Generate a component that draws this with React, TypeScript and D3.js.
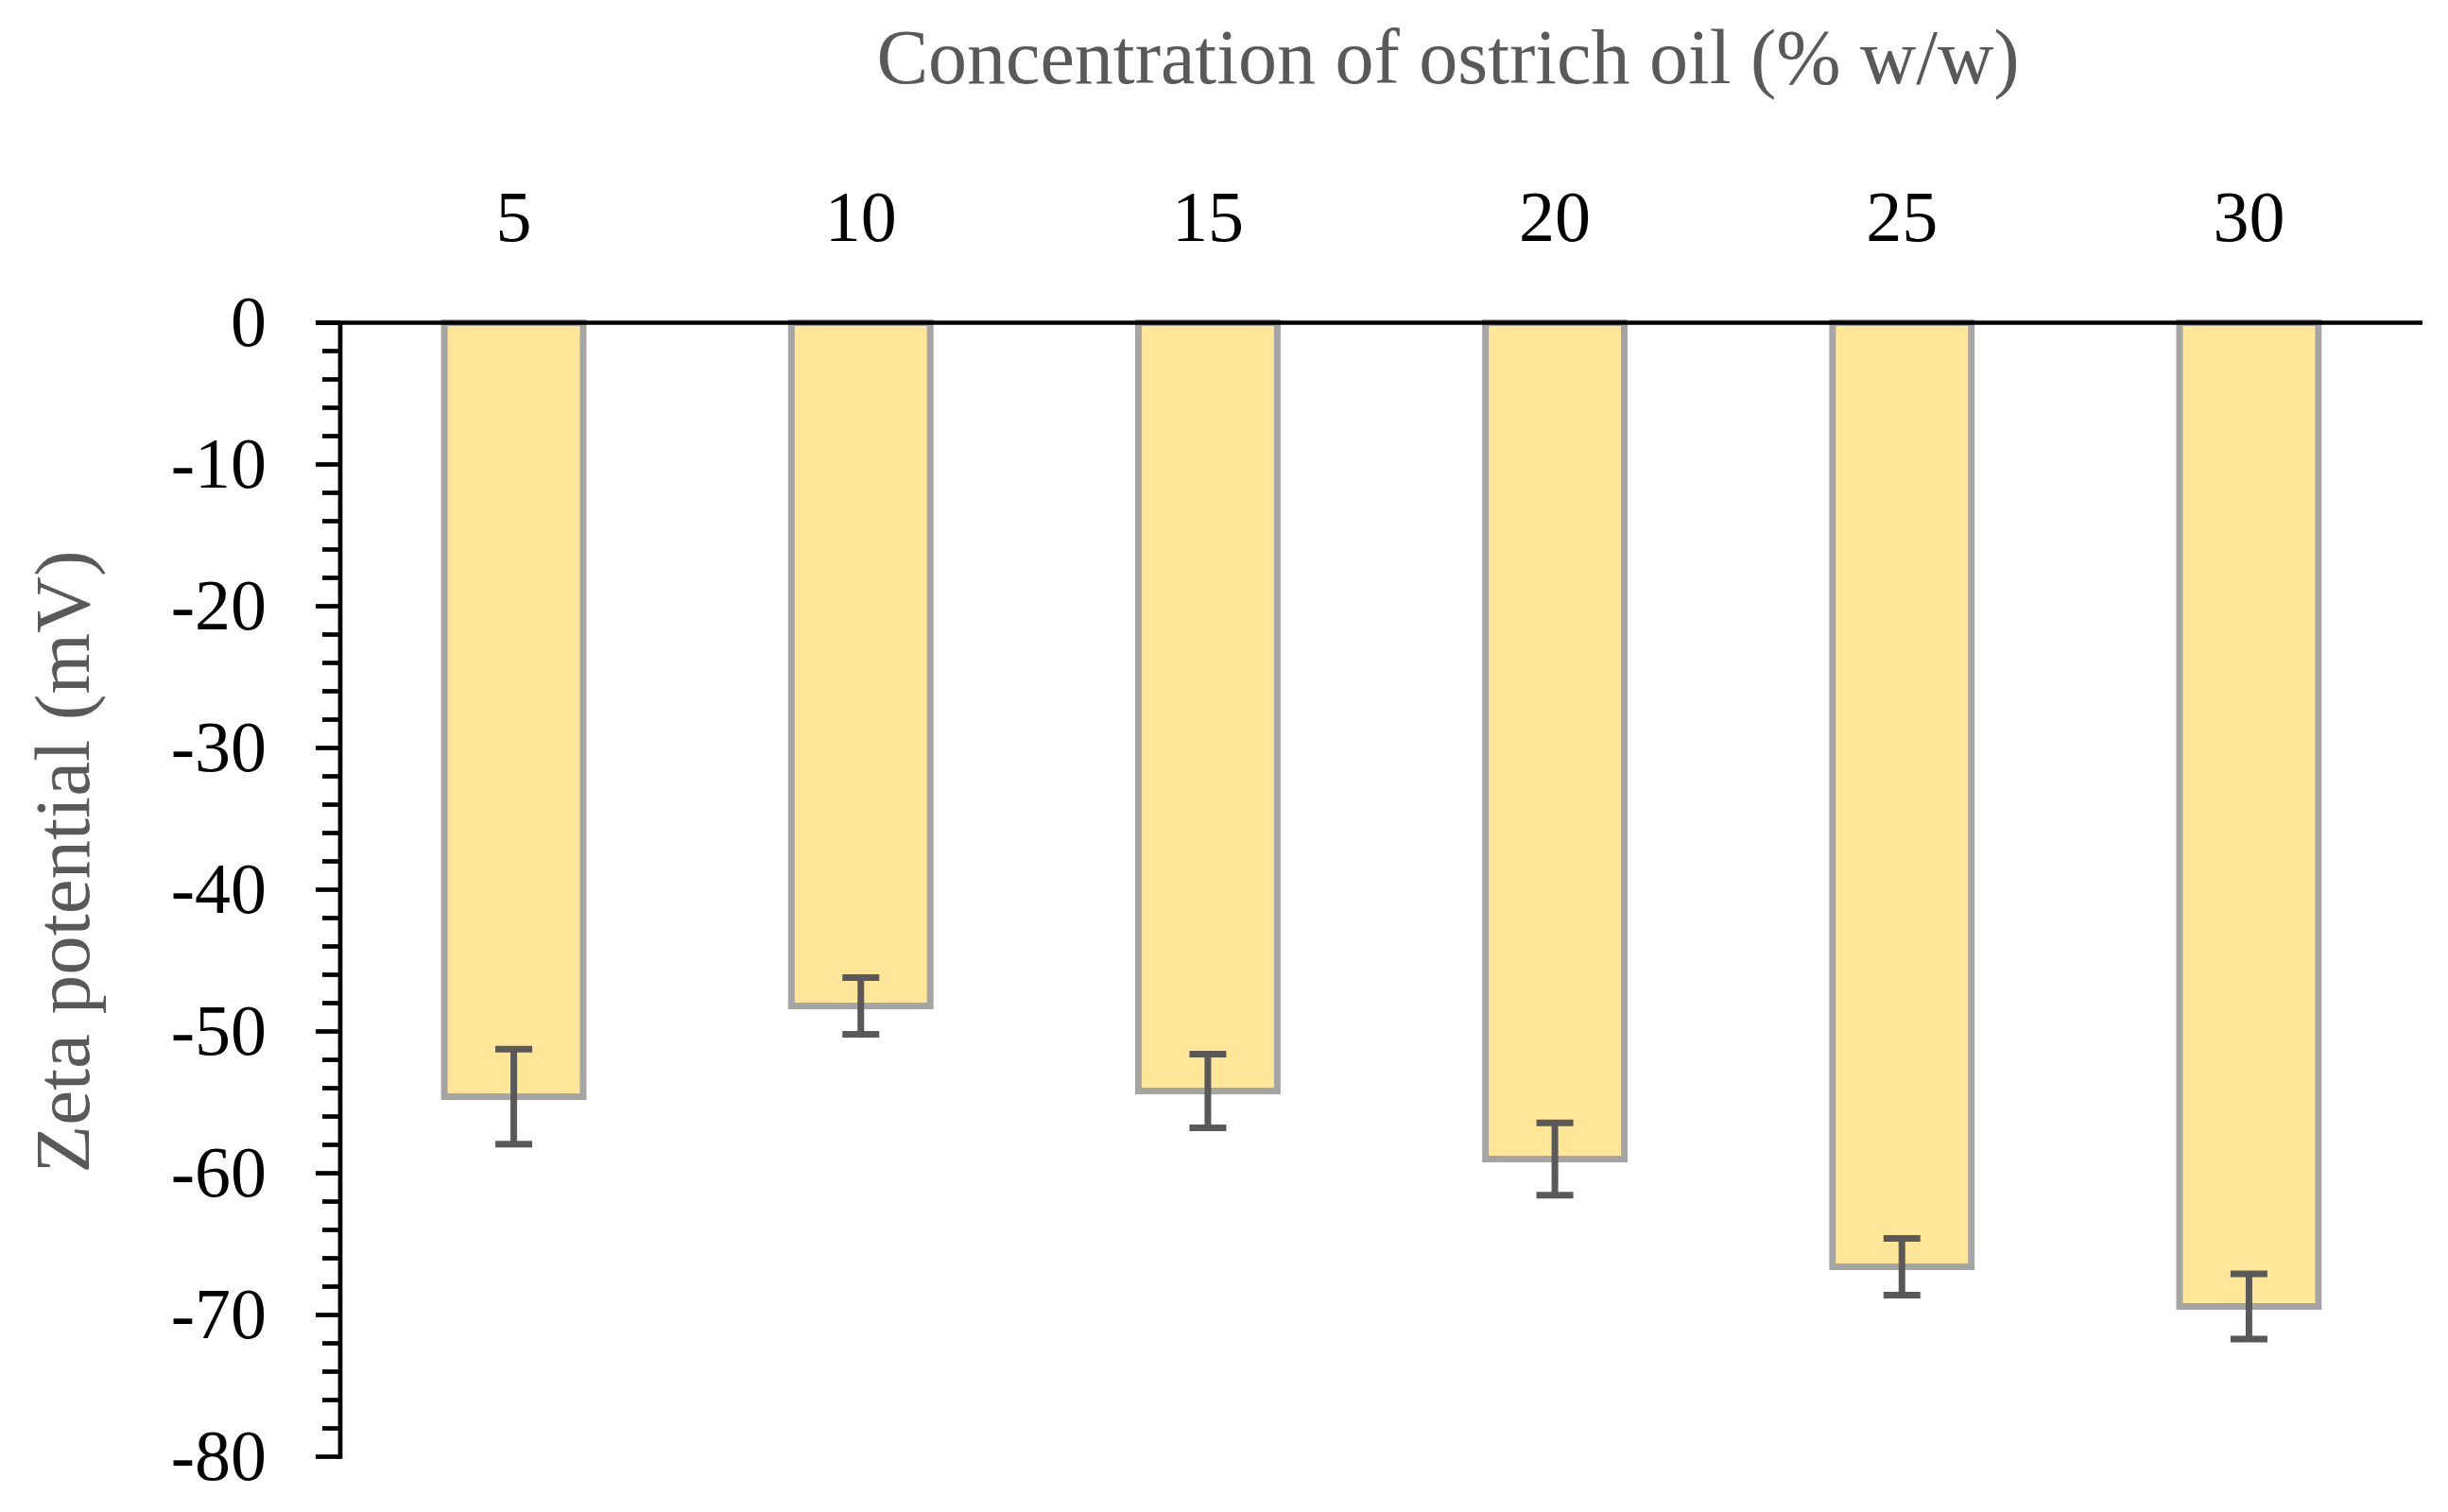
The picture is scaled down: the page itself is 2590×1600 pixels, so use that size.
import React from "react";
import * as d3 from "d3";

// oil concentration (% w/w)
const categories = ["5", "10", "15", "20", "25", "30"];
// zeta potential (mV) and standard deviation
const zetaValues = [-54.6, -48.2, -54.2, -59.0, -66.6, -69.4];
const zetaErrors = [3.35, 2.0, 2.6, 2.55, 2.0, 2.3];
const yTicks = [0, -10, -20, -30, -40, -50, -60, -70, -80];
const yMinorTicks = d3.range(0, -81, -2);

const width = 2590;
const height = 1600;
const serif = "'Liberation Serif', 'DejaVu Serif', serif";

function App() {
  const x = d3
    .scaleBand()
    .domain(categories)
    .range([360, 2563])
    .paddingInner(0.6)
    .paddingOuter(0.3);

  const y = d3.scaleLinear().domain([-80, 0]).range([1541.5, 341.5]);

  const data = categories.map((c, i) => ({
    cat: c,
    value: zetaValues[i],
    err: zetaErrors[i]
  }));

  const capHalf = 19.5;

  return (
    <svg
      width={width}
      height={height}
      style={{ position: "absolute", left: 0, top: 0, background: "#fff" }}
    >
      {/* title on top */}
      <text
        x={1532}
        y={88}
        textAnchor="middle"
        fontFamily={serif}
        fontSize={82}
        fill="#595959"
      >
        Concentration of ostrich oil (% w/w)
      </text>

      {/* y title */}
      <text
        transform={"translate(94,912) rotate(-90)"}
        textAnchor="middle"
        fontFamily={serif}
        fontSize={83}
        fill="#595959"
      >
        Zeta potential (mV)
      </text>

      {/* bars */}
      <g>
        {data.map((d) => (
          <rect
            key={d.cat}
            x={x(d.cat)}
            y={y(0)}
            width={x.bandwidth()}
            height={y(d.value) - y(0)}
            fill="#FFE699"
            stroke="#A5A5A5"
            strokeWidth={7}
          />
        ))}
      </g>

      {/* error bars */}
      <g stroke="#595959" strokeWidth={7}>
        {data.map((d) => {
          const cx = (x(d.cat) as number) + x.bandwidth() / 2;
          const top = y(d.value + d.err);
          const bot = y(d.value - d.err);
          return (
            <g key={d.cat}>
              <line x1={cx} x2={cx} y1={top} y2={bot} />
              <line x1={cx - capHalf} x2={cx + capHalf} y1={top} y2={top} />
              <line x1={cx - capHalf} x2={cx + capHalf} y1={bot} y2={bot} />
            </g>
          );
        })}
      </g>

      {/* y axis */}
      <g stroke="#000" strokeWidth={4.7}>
        <line x1={360} x2={360} y1={y(0)} y2={y(-80) + 2.3} />
        {yMinorTicks
          .filter((t) => t % 10 !== 0)
          .map((t) => (
            <line key={"m" + t} x1={341} x2={360} y1={y(t)} y2={y(t)} />
          ))}
        {yTicks.map((t) => (
          <line key={"M" + t} x1={334} x2={360} y1={y(t)} y2={y(t)} />
        ))}
      </g>
      <g fontFamily={serif} fontSize={76} fill="#000" textAnchor="end">
        {yTicks.map((t) => (
          <text key={t} x={282} y={y(t) + 24}>
            {t}
          </text>
        ))}
      </g>

      {/* x axis (at zero, labels above) */}
      <line x1={334} x2={2563} y1={y(0)} y2={y(0)} stroke="#000" strokeWidth={4.7} />
      <g fontFamily={serif} fontSize={76} fill="#000" textAnchor="middle">
        {categories.map((c) => (
          <text key={c} x={(x(c) as number) + x.bandwidth() / 2} y={255}>
            {c}
          </text>
        ))}
      </g>
    </svg>
  );
}

export default App;
